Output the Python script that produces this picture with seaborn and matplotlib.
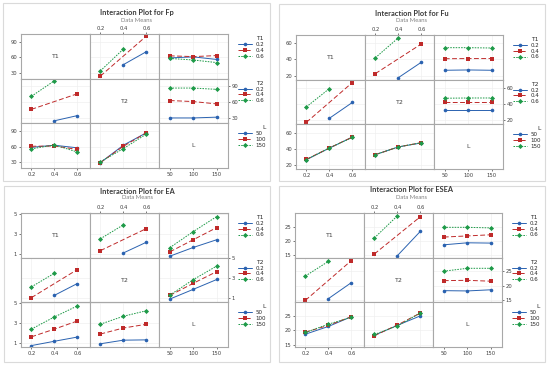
import numpy as np
import pandas as pd
import matplotlib
matplotlib.use("Agg")
import matplotlib.pyplot as plt
import seaborn as sns
from matplotlib.patches import Rectangle

# factor levels
t_levels = [0.2, 0.4, 0.6]
l_levels = [50, 100, 150]
factor_names = ["T1", "T2", "L"]
# T1/T2 combinations that exist in the design (T1 never equals T2)
t1t2_pairs = [(0.2, 0.4), (0.2, 0.6), (0.4, 0.2), (0.4, 0.6), (0.6, 0.2), (0.6, 0.4)]

# data means
fp_t1t2 = [46, 71, 24, 101, 34, 76]
fp_t1l = [[59, 61, 56], [63, 61.5, 63.5], [58, 55, 50]]      # rows T1, cols L
fp_t2l = [[29.5, 29.5, 31], [63, 61, 56.5], [87, 87, 84.5]]  # rows T2, cols L

fu_t1t2 = [17.5, 36.5, 22.5, 59, 42, 66.5]
fu_t1l = [[26.6, 27, 26.6], [40.8, 41, 41], [54.4, 54.4, 54]]
fu_t2l = [[32.8, 32.8, 32.8], [42.3, 42.3, 42.3], [47.2, 47.5, 47.5]]

ea_t1t2 = [1.07, 2.14, 1.3, 3.5, 2.48, 3.87]
ea_t1l = [[0.75, 1.62, 2.39], [1.18, 2.39, 3.6], [1.6, 3.2, 4.7]]
ea_t2l = [[0.93, 1.9, 2.88], [1.29, 2.5, 3.67], [1.32, 2.87, 4.22]]

esea_t1t2 = [14.9, 23.4, 15.5, 28.5, 21.1, 28.8]
esea_t1l = [[18.7, 19.4, 19.3], [21.4, 21.8, 22.2], [24.8, 24.8, 24.6]]
esea_t2l = [[18.3, 18.2, 18.6], [21.8, 21.9, 21.6], [25.1, 26.1, 26.1]]

responses = ["Fp", "Fu", "EA", "ESEA"]
y_ticks = {"Fp": [30, 60, 90], "Fu": [20, 40, 60], "EA": [1, 3, 5], "ESEA": [15, 20, 25]}
y_lims = {"Fp": (19, 105), "Fu": (15, 70), "EA": (0.6, 5.05), "ESEA": (14.2, 29.8)}

means = {
    "Fp": (fp_t1t2, fp_t1l, fp_t2l),
    "Fu": (fu_t1t2, fu_t1l, fu_t2l),
    "EA": (ea_t1t2, ea_t1l, ea_t2l),
    "ESEA": (esea_t1t2, esea_t1l, esea_t2l),
}

colors = ["#2A62B0", "#BF2A2A", "#1E9A48"]
marks = ["o", "s", "D"]
dash_styles = ["", (5, 2.5), (1.6, 1.2)]


def levels_of(k):
    return l_levels if k == 2 else t_levels


def label_of(k, v):
    return str(int(v)) if k == 2 else f"{v:.1f}"


def pair_table(resp, a, b):
    # returns list of (level of a, level of b, mean), a < b
    t1t2, t1l, t2l = means[resp]
    if (a, b) == (0, 1):
        return [(p[0], p[1], v) for p, v in zip(t1t2_pairs, t1t2)]
    tab = t1l if a == 0 else t2l
    return [(t_levels[r], l_levels[c], tab[r][c]) for r in range(3) for c in range(3)]


def cell_frame(resp, i, j):
    a, b = min(i, j), max(i, j)
    rows = []
    for la, lb, v in pair_table(resp, a, b):
        g, x = (la, lb) if i < j else (lb, la)
        rows.append({"x": x, "g": label_of(i, g), "y": v})
    return pd.DataFrame(rows)


def px(x, y, w, h):
    return [x / 550, 1 - (y + h) / 368, w / 550, h / 368]


sns.set_style("white")
plt.rcParams["font.family"] = ["DejaVu Sans"]

fig = plt.figure(figsize=(5.5, 3.68), dpi=100)
fig.patch.set_facecolor("white")

# box x, y, w, h, grid x, grid y, title y, subtitle y
panels = {
    "Fp": (3, 3, 267, 178, 21, 34, 13, 20),
    "Fu": (279, 4, 266, 177, 296, 35, 14, 21),
    "EA": (4, 186, 266, 176, 21, 213, 191, 198),
    "ESEA": (279, 186, 266, 176, 295, 213, 190, 198),
}
cw, ch = 69, 44.7

for resp in responses:
    bx, by, bw, bh, gx, gy, ty, sy = panels[resp]
    fig.add_artist(Rectangle((bx / 550, 1 - (by + bh) / 368), bw / 550, bh / 368,
                             transform=fig.transFigure, facecolor="white",
                             edgecolor="#DADADA", lw=0.8, zorder=0))
    fig.text((bx + bw / 2) / 550, 1 - ty / 368, f"Interaction Plot for {resp}",
             ha="center", va="center", fontsize=5.3, fontweight="bold",
             color="#3A3A3A", family="Lato")
    fig.text((bx + bw / 2) / 550, 1 - sy / 368, "Data Means",
             ha="center", va="center", fontsize=4.2, color="#808080", family="Lato")

    for i in range(3):
        for j in range(3):
            ax = fig.add_axes(px(gx + j * cw, gy + i * ch, cw, ch))
            ax.set_facecolor("white")
            xl = (27, 174) if j == 2 else (0.11, 0.71)
            ax.set_xlim(xl)
            ax.set_ylim(y_lims[resp])
            ax.set_xticks(levels_of(j))
            ax.set_xticklabels([label_of(j, v) for v in levels_of(j)])
            ax.set_yticks(y_ticks[resp])
            for s in ax.spines.values():
                s.set_color("#A8A8A8")
                s.set_linewidth(0.8)
            ax.tick_params(labelsize=3.8, length=1.5, width=0.5, pad=1.2,
                           colors="#404040", bottom=False, left=False,
                           labelbottom=False, labelleft=False)
            if j == 0 and i in (0, 2):
                ax.tick_params(left=True, labelleft=True)
            if i == 1 and j == 2:
                ax.tick_params(right=True, labelright=True)
            if i == 2 and j in (0, 2):
                ax.tick_params(bottom=True, labelbottom=True)
            if i == 0 and j == 1:
                ax.tick_params(top=True, labeltop=True, pad=0.8)
            ax.set_xlabel("")
            ax.set_ylabel("")

            if i == j:
                ax.grid(False)
                ax.text(0.5, 0.5, factor_names[i], transform=ax.transAxes,
                        ha="center", va="center", fontsize=4.5, color="#404040")
                continue

            ax.grid(True, color="#EDEDED", lw=0.4)
            df = cell_frame(resp, i, j)
            order = [label_of(i, v) for v in levels_of(i)]
            show_leg = (j == (1 if i == 0 else 0))
            sns.lineplot(data=df, x="x", y="y", hue="g", style="g",
                         hue_order=order, style_order=order,
                         palette=dict(zip(order, colors)),
                         markers=dict(zip(order, marks)),
                         dashes=dict(zip(order, dash_styles)),
                         markersize=2.6, markeredgewidth=0, linewidth=0.7,
                         errorbar=None, legend=show_leg, ax=ax)
            ax.set_xlabel("")
            ax.set_ylabel("")
            if show_leg:
                sns.move_legend(ax, "upper left",
                                bbox_to_anchor=((gx + 3 * cw + 10) / 550, 1 - (gy + i * ch + 2) / 368),
                                bbox_transform=fig.transFigure, frameon=False,
                                title=factor_names[i], fontsize=4, title_fontsize=4.3,
                                handlelength=2.6, handletextpad=0.5, labelspacing=0.15,
                                borderpad=0, borderaxespad=0, alignment="right")

fig.savefig("out.png", dpi=100, facecolor="white")
